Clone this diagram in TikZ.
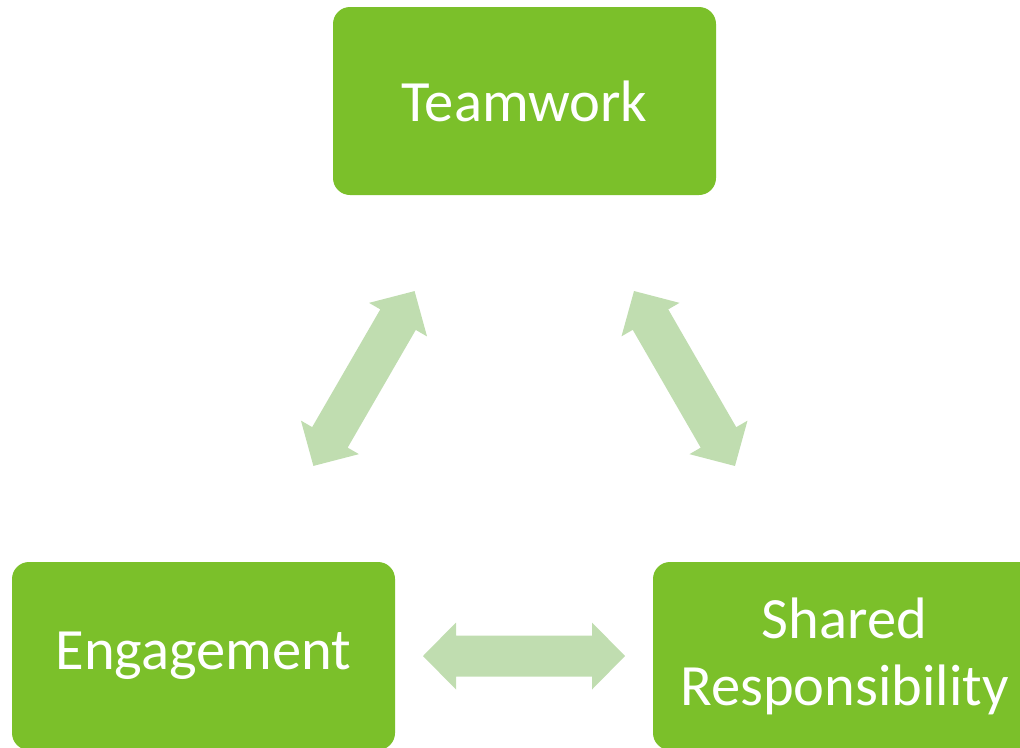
\documentclass[tikz,border=0pt]{standalone}
\usepackage{fontspec}
\setmainfont{Carlito}
\usepackage{tikz}
\usetikzlibrary{positioning}
\definecolor{verdeBox}{HTML}{7BC02A}
\definecolor{verdeChiaro}{HTML}{C0DDB0}
\tikzset{
    pics/frecciaDoppia/.style = {code = {
        \fill[verdeChiaro] (-101,0) -- (-68,33.5) -- (-68,20.5) -- (68,20.5) -- (68,33.5) -- (101,0) -- (68,-33.5) -- (68,-20.5) -- (-68,-20.5) -- (-68,-33.5) -- cycle;
    }}
}
\begin{document}
\begin{tikzpicture}[x = 1pt, y = -1pt, casella/.style = {fill = verdeBox, rounded corners = 17pt, minimum width = 383pt, minimum height = 188pt, text = white, align = center, font = \fontsize{58.5}{67}\selectfont}]
    % Cornice
    \useasboundingbox (0,0) rectangle (1020,747);
    % Caselle
    \node[casella] (teamwork) at (524.5,101) {Teamwork};
    \node[casella] (engagement) at (203.5,656) {Engagement};
    \node[casella] (shared) at (844.5,656) {Shared\\Responsibility};
    % Frecce doppie
    \path (engagement) -- (teamwork) pic[pos = 0.5, sloped] {frecciaDoppia};
    \path (teamwork) -- (shared) pic[pos = 0.5, sloped] {frecciaDoppia};
    \path (engagement) -- (shared) pic[pos = 0.5, sloped] {frecciaDoppia};
\end{tikzpicture}
\end{document}
